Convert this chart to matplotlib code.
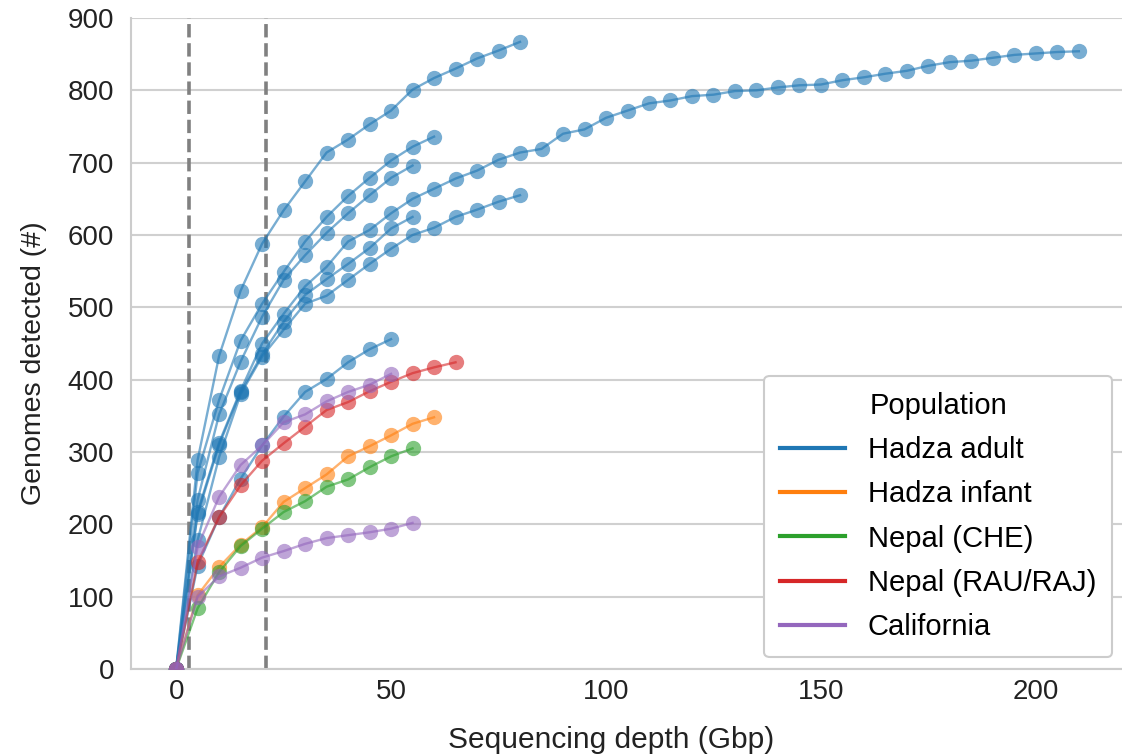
import matplotlib
matplotlib.use("Agg")
import matplotlib.pyplot as plt
from matplotlib.lines import Line2D

plt.rcParams['font.family'] = ['Liberation Sans', 'DejaVu Sans']

# ---- data (genomes detected at each 5 Gbp subsampling step, starting at 0) ----
depth_step = 5
thresholds = [3, 21]

populations = ["Hadza adult", "Hadza infant", "Nepal (CHE)", "Nepal (RAU/RAJ)", "California"]
pop_colors = ["#1f77b4", "#ff7f0e", "#2ca02c", "#d62728", "#9467bd"]

hadza_adult_a = [0, 289, 433, 523, 588, 634, 674, 714, 732, 753, 772, 801, 817, 830, 844, 855, 867]
hadza_adult_b = [0, 271, 372, 454, 505, 549, 591, 625, 654, 679, 703, 722, 736]
hadza_adult_c = [0, 234, 352, 425, 487, 538, 572, 603, 630, 655, 679, 696]
hadza_adult_d = [0, 217, 313, 385, 450, 491, 529, 556, 591, 607, 630, 650, 664, 678, 689,
                 704, 714, 719, 740, 746, 762, 772, 782, 786, 792, 794, 799, 800, 804, 807,
                 808, 814, 818, 823, 827, 834, 839, 841, 845, 849, 851, 853, 854]
hadza_adult_e = [0, 214, 310, 383, 435, 480, 517, 539, 560, 582, 609, 625]
hadza_adult_f = [0, 178, 293, 380, 432, 469, 505, 516, 538, 560, 581, 600, 610, 625, 635, 646, 655]
hadza_adult_g = [0, 143, 210, 263, 309, 349, 383, 401, 424, 442, 456]
hadza_infant_1 = [0, 102, 141, 172, 196, 231, 250, 269, 294, 308, 323, 339, 348]
nepal_che_1 = [0, 84, 134, 170, 194, 217, 232, 252, 262, 279, 294, 305]
nepal_rau_1 = [0, 148, 210, 254, 288, 312, 335, 358, 369, 384, 397, 409, 417, 424]
california_1 = [0, 169, 238, 282, 309, 341, 352, 370, 383, 393, 408]
california_2 = [0, 100, 128, 140, 154, 163, 173, 181, 185, 189, 194, 202]

samples = [
    ("Hadza adult", hadza_adult_a), ("Hadza adult", hadza_adult_b),
    ("Hadza adult", hadza_adult_c), ("Hadza adult", hadza_adult_d),
    ("Hadza adult", hadza_adult_e), ("Hadza adult", hadza_adult_f),
    ("Hadza adult", hadza_adult_g),
    ("Hadza infant", hadza_infant_1),
    ("Nepal (CHE)", nepal_che_1),
    ("Nepal (RAU/RAJ)", nepal_rau_1),
    ("California", california_1), ("California", california_2),
]

color_of = dict(zip(populations, pop_colors))

W, H = 1122, 755
fig = plt.figure(figsize=(W / 100, H / 100), dpi=100)
ax = fig.add_axes([131 / W, (H - 669) / H, (1124 - 131) / W, (669 - 18) / H])

for pop, vals in samples:
    xs = [i * depth_step for i in range(len(vals))]
    ax.plot(xs, vals, color=color_of[pop], marker='o', ms=11, lw=1.7, alpha=0.6,
            mew=0, zorder=3)

for t in thresholds:
    ax.axvline(t, color='#808080', ls='--', lw=2.6, zorder=2)

ax.set_xlim(-10.5, 220.5)
ax.set_ylim(0, 900)
ax.set_yticks(range(0, 901, 100))
ax.set_xticks([0, 50, 100, 150, 200])

ax.yaxis.grid(True, color='#d0d0d0', lw=1.5)
ax.xaxis.grid(False)
ax.set_axisbelow(True)
for s in ['top', 'right']:
    ax.spines[s].set_visible(False)
for s in ['left', 'bottom']:
    ax.spines[s].set_color('#cccccc')
    ax.spines[s].set_linewidth(1.5)

ax.tick_params(axis='both', length=0, labelsize=20, colors='#222222')
ax.tick_params(axis='y', pad=12)
ax.tick_params(axis='x', pad=7)

ax.set_xlabel("Sequencing depth (Gbp)", fontsize=21.5, color='#222222', labelpad=15)
ax.set_ylabel("Genomes detected (#)", fontsize=20.5, color='#222222', labelpad=15)
ax.xaxis.label.set_x(0.484)
ax.yaxis.label.set_y(0.47)

handles = [Line2D([0], [0], color=c, lw=3) for c in pop_colors]
leg = ax.legend(handles, populations, title="Population", loc='lower right',
                fontsize=21, title_fontsize=21, handlelength=2.2, handletextpad=0.8,
                labelspacing=0.56, borderpad=0.55, borderaxespad=0.4,
                frameon=True, fancybox=True)
leg.get_frame().set_edgecolor('#cccccc')
leg.get_frame().set_linewidth(1.5)
leg.get_frame().set_alpha(1)

fig.savefig("out.png", dpi=100)
